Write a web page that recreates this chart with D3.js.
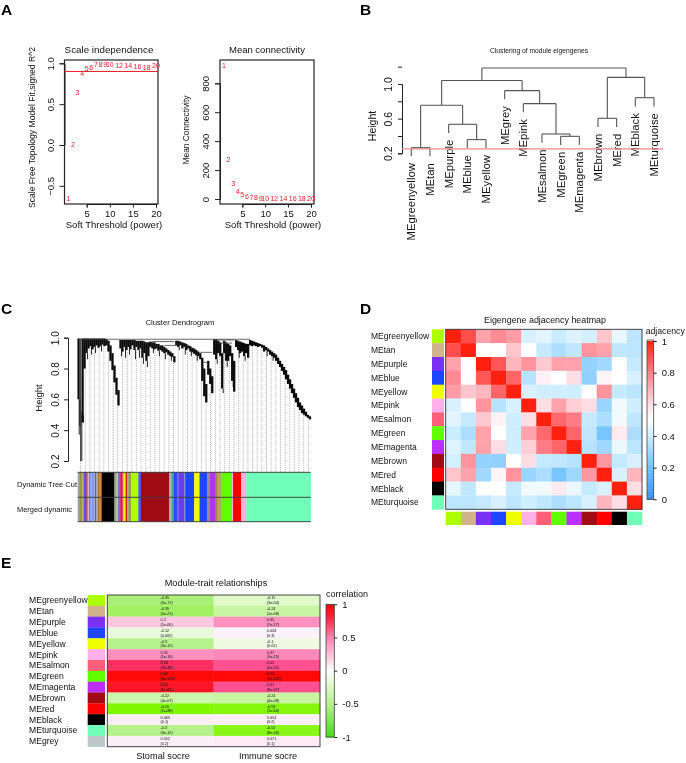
<!DOCTYPE html>
<html>
<head>
<meta charset="utf-8">
<script src="https://cdn.jsdelivr.net/npm/d3@7/dist/d3.min.js"></script>
<style>
  html, body { margin: 0; padding: 0; background: #fff; }
  svg { display: block; filter: blur(0.35px); }
  text { font-family: "Liberation Sans", Arial, sans-serif; fill: #111; }
  .domain, .tick line { stroke: #222; }
</style>
</head>
<body>
<svg id="chart" width="686" height="763"></svg>
<script>
// Panel A - soft threshold
let powers = [1, 2, 3, 4, 5, 6, 7, 8, 9, 10, 12, 14, 16, 18, 20];
let fitR2 = [-0.66, 0.01, 0.64, 0.88, 0.94, 0.95, 0.98, 0.98, 0.98, 0.98, 0.97, 0.97, 0.96, 0.95, 0.97];
let meanK = [925, 270, 105, 50, 28, 18, 12, 8, 6, 4, 2, 1, 1, 1, 0];

// Panel B - eigengene tree, written the way R's hclust gives it ($merge, $height)
let leaves = ["MEgreenyellow", "MEtan", "MEpurple", "MEblue", "MEyellow", "MEgrey", "MEpink", "MEsalmon", "MEgreen", "MEmagenta", "MEbrown", "MEred", "MEblack", "MEturquoise"];
let mergeA = [-1, -4, -3, 1, -9, -8, -7, -6, 4, -11, -13, 10, 9];
let mergeB = [-2, -5, 2, 3, -10, 5, 6, 7, 8, -12, -14, 11, 12];
let mergeH = [0.265, 0.358, 0.535, 0.754, 0.396, 0.423, 0.773, 0.923, 1.04, 0.604, 0.842, 1.077, 1.185];

// Panel C - outline of the gene tree, one entry per column
let treeTop = [0.995, 0.995, 0.995, 0.995, 0.995, 0.995, 0.995, 0.995, 0.995, 0.995, 0.995, 0.995, 0.995, 0.995, 0.99,
  0.98, 0.95, 0.90, 0.82, 0.74, 0.66,
  0.985, 0.985, 0.985, 0.985, 0.985, 0.985, 0.985, 0.985, 0.98, 0.98, 0.98, 0.98, 0.975, 0.97, 0.97,
  0.975, 0.97, 0.97, 0.96, 0.96, 0.95, 0.95, 0.94, 0.93, 0.92, 0.91, 0.90, 0.88,
  0.98, 0.98, 0.975, 0.97, 0.965, 0.96, 0.95, 0.945, 0.935, 0.93, 0.92, 0.91, 0.90,
  0.87, 0.80, 0.70, 0.85, 0.80, 0.75,
  0.99, 0.99, 0.98, 0.97, 0.90,
  0.98, 0.97, 0.96, 0.95, 0.90, 0.85,
  0.985, 0.98, 0.975, 0.97, 0.965, 0.96, 0.96,
  0.985, 0.98, 0.975, 0.97, 0.965, 0.96, 0.955, 0.95, 0.94, 0.93, 0.92, 0.91, 0.90, 0.89, 0.87, 0.85, 0.83, 0.81, 0.79, 0.76, 0.73, 0.70, 0.67, 0.64, 0.61, 0.58, 0.56, 0.54, 0.52, 0.50, 0.49];
let treeLow = [0.60, 0.20, 0.45, 0.80, 0.90, 0.93, 0.945, 0.925, 0.94, 0.95, 0.935, 0.945, 0.955, 0.945, 0.95,
  0.91, 0.85, 0.79, 0.71, 0.63, 0.56,
  0.93, 0.91, 0.94, 0.92, 0.94, 0.925, 0.95, 0.92, 0.94, 0.92, 0.93, 0.87, 0.90, 0.85, 0.88,
  0.94, 0.93, 0.925, 0.93, 0.915, 0.92, 0.91, 0.90, 0.905, 0.89, 0.88, 0.875, 0.84,
  0.95, 0.94, 0.95, 0.93, 0.94, 0.92, 0.93, 0.91, 0.905, 0.895, 0.885, 0.88, 0.86,
  0.72, 0.62, 0.58, 0.76, 0.70, 0.64,
  0.89, 0.86, 0.90, 0.88, 0.67,
  0.90, 0.85, 0.85, 0.88, 0.72, 0.65,
  0.94, 0.92, 0.90, 0.91, 0.88, 0.90, 0.87,
  0.95, 0.945, 0.95, 0.945, 0.94, 0.945, 0.935, 0.91, 0.92, 0.91, 0.89, 0.88, 0.87, 0.85, 0.83, 0.81, 0.785, 0.76, 0.73, 0.70, 0.67, 0.64, 0.61, 0.58, 0.55, 0.53, 0.51, 0.50, 0.49, 0.48, 0.47];
// thin single branches hanging below the outline: column, height
let spikeCol = [0.3, 0.6, 1.6, 2.4, 4.5, 6.5, 8.5, 11.5, 21.5, 23.5, 25.5, 28.5, 30.5, 32.5, 34.5, 37.5, 40.5, 43.5, 46.5, 50.5, 53.5, 56.5, 59.5, 69.5, 72.5, 74.5, 77.5, 80.5, 83.5, 94.5, 97.5];
let spikeLow = [0.37, 0.43, 0.52, 0.50, 0.86, 0.89, 0.90, 0.91, 0.88, 0.87, 0.89, 0.86, 0.87, 0.83, 0.81, 0.90, 0.88, 0.86, 0.85, 0.92, 0.89, 0.88, 0.85, 0.83, 0.64, 0.81, 0.68, 0.87, 0.85, 0.88, 0.85];
// joining branches: first column, last column, height
let treeLinkFrom = [0, 37, 43, 61, 62, 68, 70];
let treeLinkTo = [86, 48, 49, 67, 65, 78, 77];
let treeLinkH = [0.99, 0.975, 0.95, 0.905, 0.84, 0.985, 0.965];

// module colour strip under the tree, colours with gene counts
let stripColors = ["#9aa0b0", "#8f9a3a", "#c8b070", "#6fa0c0", "#6a3df0", "#a04060", "#ff5070", "#c0c0c0", "#2a48ff", "#9fb0ff", "#6050e0", "#d8d8d8", "#2a48ff", "#a0a8d0", "#b0c030", "#9a7a30", "#e08030",
  "#000000", "#8fa890", "#a8d070", "#7a60d0", "#e04080", "#c02070", "#ff3030", "#f0ff00", "#c02020", "#a0a0a0", "#9a9a40", "#adff00", "#4a5ae0",
  "#a00b14", "#9fb0b0", "#50a0a0", "#2a48ff", "#7a60e0", "#6a3cf0", "#8090d0", "#1e45ff", "#f0ff00", "#1e45ff", "#909090", "#b035f0", "#9a8a40", "#c0a060", "#5fff00", "#ffb0e0", "#ff0000", "#ffb0e0", "#70ffb8"];
let stripCounts = [2, 2, 1, 1, 2, 1, 1, 1, 1, 2, 1, 1, 1, 1, 1, 1, 2.5,
  12, 2, 1.5, 1.5, 1, 1.5, 1, 2, 1.5, 1.5, 2, 7, 2.5,
  26.5, 2, 2, 3.5, 1.5, 5, 1, 8.5, 5, 7, 2.5, 5, 2.5, 3, 10.5, 1, 7.5, 5, 60.5];

// Panel D - eigengene adjacency
let adjLabels = ["MEgreenyellow", "MEtan", "MEpurple", "MEblue", "MEyellow", "MEpink", "MEsalmon", "MEgreen", "MEmagenta", "MEbrown", "MEred", "MEblack", "MEturquoise"];
let adjColors = ["#adff00", "#d2b48c", "#7a30f5", "#1e45ff", "#f0ff00", "#ffb0e8", "#ff5f78", "#5fff00", "#bb30ff", "#a00b14", "#ff0000", "#000000", "#70ffb8"];
let adjacency = [
  [1, 0.90, 0.72, 0.77, 0.73, 0.42, 0.44, 0.39, 0.43, 0.41, 0.65, 0.45, 0.36],
  [0.90, 1, 0.50, 0.50, 0.65, 0.50, 0.38, 0.33, 0.37, 0.75, 0.72, 0.37, 0.36],
  [0.72, 0.50, 1, 0.88, 0.68, 0.75, 0.64, 0.72, 0.72, 0.28, 0.31, 0.50, 0.38],
  [0.77, 0.50, 0.88, 1, 0.85, 0.35, 0.54, 0.50, 0.60, 0.27, 0.53, 0.50, 0.42],
  [0.73, 0.65, 0.68, 0.85, 1, 0.42, 0.40, 0.40, 0.40, 0.50, 0.75, 0.38, 0.36],
  [0.42, 0.50, 0.75, 0.35, 0.42, 1, 0.60, 0.72, 0.63, 0.60, 0.29, 0.47, 0.40],
  [0.44, 0.38, 0.64, 0.54, 0.40, 0.60, 1, 0.84, 0.80, 0.38, 0.33, 0.47, 0.37],
  [0.39, 0.33, 0.72, 0.50, 0.40, 0.72, 0.84, 1, 0.85, 0.37, 0.22, 0.56, 0.33],
  [0.43, 0.37, 0.72, 0.60, 0.40, 0.63, 0.80, 0.85, 1, 0.35, 0.30, 0.46, 0.36],
  [0.41, 0.75, 0.28, 0.27, 0.50, 0.60, 0.38, 0.37, 0.35, 1, 0.74, 0.38, 0.42],
  [0.65, 0.72, 0.31, 0.53, 0.75, 0.29, 0.33, 0.22, 0.30, 0.74, 1, 0.42, 0.68],
  [0.45, 0.37, 0.50, 0.50, 0.38, 0.47, 0.47, 0.56, 0.46, 0.38, 0.42, 1, 0.60],
  [0.36, 0.36, 0.38, 0.42, 0.36, 0.40, 0.37, 0.33, 0.36, 0.42, 0.68, 0.60, 1]
];

// Panel E - module-trait relationships
let traitLabels = ["MEgreenyellow", "MEtan", "MEpurple", "MEblue", "MEyellow", "MEpink", "MEsalmon", "MEgreen", "MEmagenta", "MEbrown", "MEred", "MEblack", "MEturquoise", "MEgrey"];
let traitColors = ["#adff00", "#d2b48c", "#7a30f5", "#1e45ff", "#f0ff00", "#ffb0e8", "#ff5f78", "#5fff00", "#bb30ff", "#a00b14", "#ff0000", "#000000", "#70ffb8", "#bec8c8"];
let traits = ["Stomal socre", "Immune socre"];
let stromalCor = [-0.35, -0.39, 0.2, -0.12, -0.3, 0.35, 0.58, 0.69, 0.65, -0.22, -0.55, 0.063, -0.3, 0.052];
let stromalP = ["(5e-17)", "(5e-21)", "(1e-06)", "(0.005)", "(3e-12)", "(1e-16)", "(3e-48)", "(6e-171)", "(6e-65)", "(4e-07)", "(1e-88)", "(0.1)", "(3e-12)", "(0.2)"];
let immuneCor = [-0.15, -0.24, 0.35, 0.044, -0.1, 0.37, 0.51, 0.94, 0.51, -0.24, -0.53, 0.054, -0.51, 0.071];
let immuneP = ["(3e-04)", "(1e-08)", "(7e-17)", "(0.3)", "(0.02)", "(3e-19)", "(2e-55)", "(3e-232)", "(8e-37)", "(4e-08)", "(1e-60)", "(0.2)", "(8e-36)", "(0.1)"];

let svg = d3.select("#chart");

function label(x, y, str, size, anchor, rotate) {
  let t = svg.append("text")
    .attr("font-size", size)
    .attr("text-anchor", anchor || "start")
    .text(str);
  if (rotate) t.attr("transform", "translate(" + x + "," + y + ") rotate(" + rotate + ")");
  else t.attr("x", x).attr("y", y);
  return t;
}

// R style y tick labels: turned 90 degrees, baseline a fixed distance off the axis
function rotateTicks(axis, dx, size) {
  axis.selectAll("text")
    .attr("font-size", size)
    .attr("text-anchor", "middle")
    .attr("transform", "translate(" + dx + ",0) rotate(-90)")
    .attr("x", 0).attr("y", 0).attr("dy", 0)
    .style("font-family", "Liberation Sans");
}

// Panel letters
[["A", 1, 15], ["B", 360, 15], ["C", 1, 314], ["D", 360, 314], ["E", 1, 568]].forEach(function(p) {
  label(p[1], p[2], p[0], 15.5).attr("font-weight", "bold").style("fill", "#000");
});

// ---- A ----
function scatterPanel(opts) {
  let x = d3.scaleLinear().domain([5, 20]).range(opts.xRange);
  let y = d3.scaleLinear().domain(opts.yDomain).range(opts.yRange);

  let xAxis = svg.append("g")
    .attr("transform", "translate(0,204)")
    .call(d3.axisBottom(x).tickValues([5, 10, 15, 20]).tickSizeOuter(0).tickSize(3.5));
  xAxis.selectAll("text").attr("font-size", 9.5).attr("y", 6).style("font-family", "Liberation Sans");

  let yAxis = svg.append("g")
    .attr("transform", "translate(" + opts.box[0] + ",0)")
    .call(d3.axisLeft(y).tickValues(opts.yTicks).tickSizeOuter(0).tickSize(5).tickFormat(d3.format(opts.fmt)));
  rotateTicks(yAxis, -11, 9.5);
  yAxis.selectAll("text").text(function(d) { return d === -0.5 ? "\u22120.5" : d3.format(opts.fmt)(d); });

  svg.append("rect")
    .attr("x", opts.box[0]).attr("y", 60)
    .attr("width", opts.box[1] - opts.box[0]).attr("height", 144)
    .attr("fill", "none").attr("stroke", "#222").attr("stroke-width", 1.2);

  if (opts.hline !== undefined) {
    svg.append("line")
      .attr("x1", opts.box[0]).attr("x2", opts.box[1])
      .attr("y1", y(opts.hline)).attr("y2", y(opts.hline))
      .attr("stroke", "#e8202c").attr("stroke-width", 1);
  }

  svg.append("g").selectAll("text")
    .data(powers)
    .enter().append("text")
    .attr("x", d => x(d))
    .attr("y", (d, i) => y(opts.values[i]))
    .attr("dy", "0.35em")
    .attr("text-anchor", "middle")
    .attr("font-size", 7)
    .style("fill", "#e0202c")
    .text(d => d);
}

scatterPanel({
  values: fitR2, xRange: [86.7, 156], yDomain: [0, 1], yRange: [145, 63.3],
  yTicks: [-0.5, 0, 0.5, 1], fmt: ".1f", box: [64.5, 158], hline: 0.9
});
scatterPanel({
  values: meanK, xRange: [242.3, 311], yDomain: [0, 800], yRange: [199, 83.3],
  yTicks: [0, 200, 400, 600, 800], fmt: "d", box: [220, 314]
});
label(109, 52.7, "Scale independence", 9.8, "middle");
label(267, 52.7, "Mean connectivity", 9.5, "middle");
label(114, 228, "Soft Threshold (power)", 9.5, "middle");
label(273, 228, "Soft Threshold (power)", 9.5, "middle");
label(35, 127.5, "Scale Free Topology Model Fit,signed R^2", 8.6, "middle", -90);
label(189, 130, "Mean Connectivity", 8.4, "middle", -90);

// ---- B ----
let bY = d3.scaleLinear().domain([0.2, 1]).range([153.3, 84]);
let bX = d3.scalePoint().domain(leaves).range([411.3, 654]);

let bAxis = svg.append("g")
  .attr("transform", "translate(402,0)")
  .call(d3.axisLeft(bY).tickValues([0.2, 0.4, 0.6, 0.8, 1, 1.2]).tickSizeOuter(0).tickSize(4));
rotateTicks(bAxis, -10, 10.5);
bAxis.selectAll("text").text(d => (d === 0.2 || d === 0.6 || d === 1) ? d3.format(".1f")(d) : "");
label(376, 126, "Height", 10.5, "middle", -90);

let bNodes = [];
function bNodeOf(id) {
  if (id < 0) return { x: bX(leaves[-id - 1]), leaf: leaves[-id - 1] };
  return bNodes[id - 1];
}
let bTree = svg.append("g").attr("fill", "none").attr("stroke", "#555").attr("stroke-width", 1.1);
mergeH.forEach(function(h, i) {
  let a = bNodeOf(mergeA[i]);
  let b = bNodeOf(mergeB[i]);
  let yy = bY(h);
  [a, b].forEach(function(n) {
    let end = n.leaf ? yy + 8.7 : bY(n.h);
    bTree.append("line").attr("x1", n.x).attr("x2", n.x).attr("y1", yy).attr("y2", end);
    if (n.leaf) label(n.x + 4, yy + 15.5, n.leaf, 11.3, "end", -90);
  });
  bTree.append("line").attr("x1", a.x).attr("x2", b.x).attr("y1", yy).attr("y2", yy);
  bNodes.push({ x: (a.x + b.x) / 2, h: h });
});
svg.append("line")
  .attr("x1", 402).attr("x2", 663)
  .attr("y1", bY(0.25)).attr("y2", bY(0.25))
  .attr("stroke", "#f08a8a").attr("stroke-width", 1.2);
label(539, 53, "Clustering of module eigengenes", 7.5, "middle")
  .attr("textLength", 98).attr("lengthAdjust", "spacingAndGlyphs");

// ---- C ----
let cY = d3.scaleLinear().domain([0.2, 1]).range([461, 337.7]);
let cX = d3.scaleLinear().domain([0, treeLow.length - 1]).range([78.6, 310]);

let cAxis = svg.append("g")
  .attr("transform", "translate(68,0)")
  .call(d3.axisLeft(cY).tickValues([0.2, 0.4, 0.6, 0.8, 1]).tickSizeOuter(0).tickSize(4));
rotateTicks(cAxis, -9, 10);
label(41.7, 398, "Height", 9.5, "middle", -90);
label(180, 325, "Cluster Dendrogram", 8, "middle").attr("textLength", 69).attr("lengthAdjust", "spacingAndGlyphs");

// dotted guides from the tree to the colour strip
svg.append("g").selectAll("line")
  .data(d3.range(1, treeLow.length, 2.33))
  .enter().append("line")
  .attr("x1", d => cX(d)).attr("x2", d => cX(d))
  .attr("y1", d => cY(treeLow[Math.floor(d)]))
  .attr("y2", 472)
  .attr("stroke", "#a0a0a0").attr("stroke-width", 0.8).attr("stroke-dasharray", "1 1");

svg.append("g").selectAll("line")
  .data(treeLow)
  .enter().append("line")
  .attr("x1", (d, i) => cX(i)).attr("x2", (d, i) => cX(i))
  .attr("y1", (d, i) => cY(treeTop[i]))
  .attr("y2", d => cY(d))
  .attr("stroke", "#0a0a0a")
  .attr("stroke-width", (d, i) => i === 1 ? 0.8 : 2.3);

svg.append("g").selectAll("line")
  .data(spikeLow)
  .enter().append("line")
  .attr("x1", (d, i) => cX(spikeCol[i])).attr("x2", (d, i) => cX(spikeCol[i]))
  .attr("y1", (d, i) => cY(treeLow[Math.floor(spikeCol[i])]))
  .attr("y2", d => cY(d))
  .attr("stroke", "#0a0a0a").attr("stroke-width", 0.9);

svg.append("g").selectAll("line")
  .data(treeLinkH)
  .enter().append("line")
  .attr("x1", (d, i) => cX(treeLinkFrom[i])).attr("x2", (d, i) => cX(treeLinkTo[i]))
  .attr("y1", d => cY(d)).attr("y2", d => cY(d))
  .attr("stroke", "#444").attr("stroke-width", 0.8);

let stripTotal = d3.sum(stripCounts);
let stripX = d3.scaleLinear().domain([0, stripTotal]).range([77.7, 310.7]);
let stripStart = [0].concat(Array.from(d3.cumsum(stripCounts)));
[[472.3, 25], [497.3, 24.4]].forEach(function(band) {
  svg.append("g").selectAll("rect")
    .data(stripColors)
    .enter().append("rect")
    .attr("x", (d, i) => stripX(stripStart[i]))
    .attr("width", (d, i) => stripX(stripStart[i + 1]) - stripX(stripStart[i]) + 0.2)
    .attr("y", band[0]).attr("height", band[1])
    .attr("fill", d => d);
});
[472.3, 497.3, 521.7].forEach(function(yy) {
  svg.append("line").attr("x1", 77.7).attr("x2", 310.7).attr("y1", yy).attr("y2", yy)
    .attr("stroke", "#333").attr("stroke-width", 0.9);
});
label(17, 487, "Dynamic Tree Cut", 8).attr("textLength", 60).attr("lengthAdjust", "spacingAndGlyphs");
label(17, 512, "Merged dynamic", 8).attr("textLength", 55).attr("lengthAdjust", "spacingAndGlyphs");

// ---- D ----
let dColor = d3.scaleLinear()
  .domain([0, 0.2, 0.4, 0.5, 0.6, 0.8, 1])
  .range(["#3f8fe8", "#6fc0ff", "#cfeeff", "#ffffff", "#ffdde5", "#ff7b85", "#ff2010"]);
let dX = d3.scaleBand().domain(adjLabels).range([445.7, 642]);
let dY = d3.scaleBand().domain(adjLabels).range([329.3, 509.3]);

adjacency.forEach(function(row, r) {
  svg.append("g").selectAll("rect")
    .data(row)
    .enter().append("rect")
    .attr("x", (d, c) => dX(adjLabels[c]))
    .attr("y", dY(adjLabels[r]))
    .attr("width", dX.bandwidth() + 0.3)
    .attr("height", dY.bandwidth() + 0.3)
    .attr("fill", d => dColor(d));
});
svg.append("rect").attr("x", 445.7).attr("y", 329.3).attr("width", 196.3).attr("height", 180)
  .attr("fill", "none").attr("stroke", "#333").attr("stroke-width", 0.9);

adjLabels.forEach(function(name, i) {
  svg.append("rect").attr("x", 432).attr("width", 12).attr("y", dY(name)).attr("height", dY.bandwidth() + 0.3).attr("fill", adjColors[i]);
  svg.append("rect").attr("y", 511.7).attr("height", 13.3).attr("x", dX(name)).attr("width", dX.bandwidth() + 0.3).attr("fill", adjColors[i]);
  label(371, dY(name) + dY.bandwidth() / 2 + 3, name, 8.5);
});
label(545, 322.7, "Eigengene adjacency heatmap", 8.9, "middle");
label(645.7, 334, "adjacency", 8.7);

let dLegendY = d3.scaleLinear().domain([0, 1]).range([499.3, 341]);
svg.append("g").selectAll("rect")
  .data(d3.range(0, 1, 0.01))
  .enter().append("rect")
  .attr("x", 647).attr("width", 6.7)
  .attr("y", d => dLegendY(d + 0.01)).attr("height", 2)
  .attr("fill", d => dColor(d));
svg.append("rect").attr("x", 647).attr("y", 340).attr("width", 6.7).attr("height", 159.3)
  .attr("fill", "none").attr("stroke", "#444").attr("stroke-width", 0.8);
let dLegendAxis = svg.append("g")
  .attr("transform", "translate(653.7,0)")
  .call(d3.axisRight(dLegendY).tickValues([0, 0.2, 0.4, 0.6, 0.8, 1]).tickSize(3).tickSizeOuter(0).tickFormat(d3.format("~g")));
dLegendAxis.select(".domain").remove();
dLegendAxis.selectAll("text").attr("font-size", 9.5).attr("x", 8).style("font-family", "Liberation Sans");

// ---- E ----
// cell colours saturate well before +/-1, as read off the cells
let eColor = d3.scaleLinear()
  .domain([-0.55, -0.35, -0.22, -0.1, 0, 0.05, 0.2, 0.35, 0.51, 0.58, 0.69])
  .range(["#80f800", "#a9ef78", "#ccf6aa", "#eefbe2", "#ffffff", "#fdf0f8", "#ffc8e0", "#ff90c0", "#ff5090", "#ff2f60", "#ff0808"])
  .clamp(true);
let eLegendColor = d3.scaleLinear()
  .domain([-1, -0.5, 0, 0.5, 0.8, 1])
  .range(["#45e010", "#b8f090", "#ffffff", "#ff80b0", "#ff2040", "#ff0000"]);
let eX = d3.scaleBand().domain(traits).range([107.3, 320]);
let eY = d3.scaleBand().domain(traitLabels).range([595, 746.7]);

function traitColumn(trait, cors, ps) {
  let col = svg.append("g");
  col.selectAll("rect")
    .data(cors)
    .enter().append("rect")
    .attr("x", eX(trait))
    .attr("y", (d, i) => eY(traitLabels[i]))
    .attr("width", eX.bandwidth() + 0.2)
    .attr("height", eY.bandwidth() + 0.2)
    .attr("fill", d => eColor(d));
  col.selectAll("text.cor")
    .data(cors)
    .enter().append("text")
    .attr("x", eX(trait) + eX.bandwidth() / 2)
    .attr("y", (d, i) => eY(traitLabels[i]) + 4.4)
    .attr("font-size", 3.8)
    .text(d => d);
  col.selectAll("text.p")
    .data(ps)
    .enter().append("text")
    .attr("x", eX(trait) + eX.bandwidth() / 2)
    .attr("y", (d, i) => eY(traitLabels[i]) + 9)
    .attr("font-size", 3.8)
    .text(d => d);
}
traitColumn(traits[0], stromalCor, stromalP);
traitColumn(traits[1], immuneCor, immuneP);
svg.append("rect").attr("x", 107.3).attr("y", 595).attr("width", 212.7).attr("height", 151.7)
  .attr("fill", "none").attr("stroke", "#333").attr("stroke-width", 0.9);

traitLabels.forEach(function(name, i) {
  svg.append("rect").attr("x", 87.7).attr("width", 17.3).attr("y", eY(name)).attr("height", eY.bandwidth() + 0.2).attr("fill", traitColors[i]);
  label(29, eY(name) + eY.bandwidth() / 2 + 3, name, 8.6);
});
label(216, 586, "Module-trait relationships", 9.2, "middle");
label(163, 759, traits[0], 9.2, "middle");
label(268, 759, traits[1], 9.2, "middle");
label(326, 596.5, "correlation", 9);

let eLegendY = d3.scaleLinear().domain([-1, 1]).range([737, 604.3]);
svg.append("g").selectAll("rect")
  .data(d3.range(-1, 1, 0.02))
  .enter().append("rect")
  .attr("x", 326).attr("width", 8.3)
  .attr("y", d => eLegendY(d + 0.02)).attr("height", 2)
  .attr("fill", d => eLegendColor(d));
svg.append("rect").attr("x", 326).attr("y", 604.3).attr("width", 8.3).attr("height", 132.7)
  .attr("fill", "none").attr("stroke", "#444").attr("stroke-width", 0.8);
let eLegendAxis = svg.append("g")
  .attr("transform", "translate(334.3,0)")
  .call(d3.axisRight(eLegendY).tickValues([-1, -0.5, 0, 0.5, 1]).tickSize(3).tickSizeOuter(0).tickFormat(d => String(d)));
eLegendAxis.select(".domain").remove();
eLegendAxis.selectAll("text").attr("font-size", 9.5).attr("x", 8).style("font-family", "Liberation Sans");
</script>
</body>
</html>
